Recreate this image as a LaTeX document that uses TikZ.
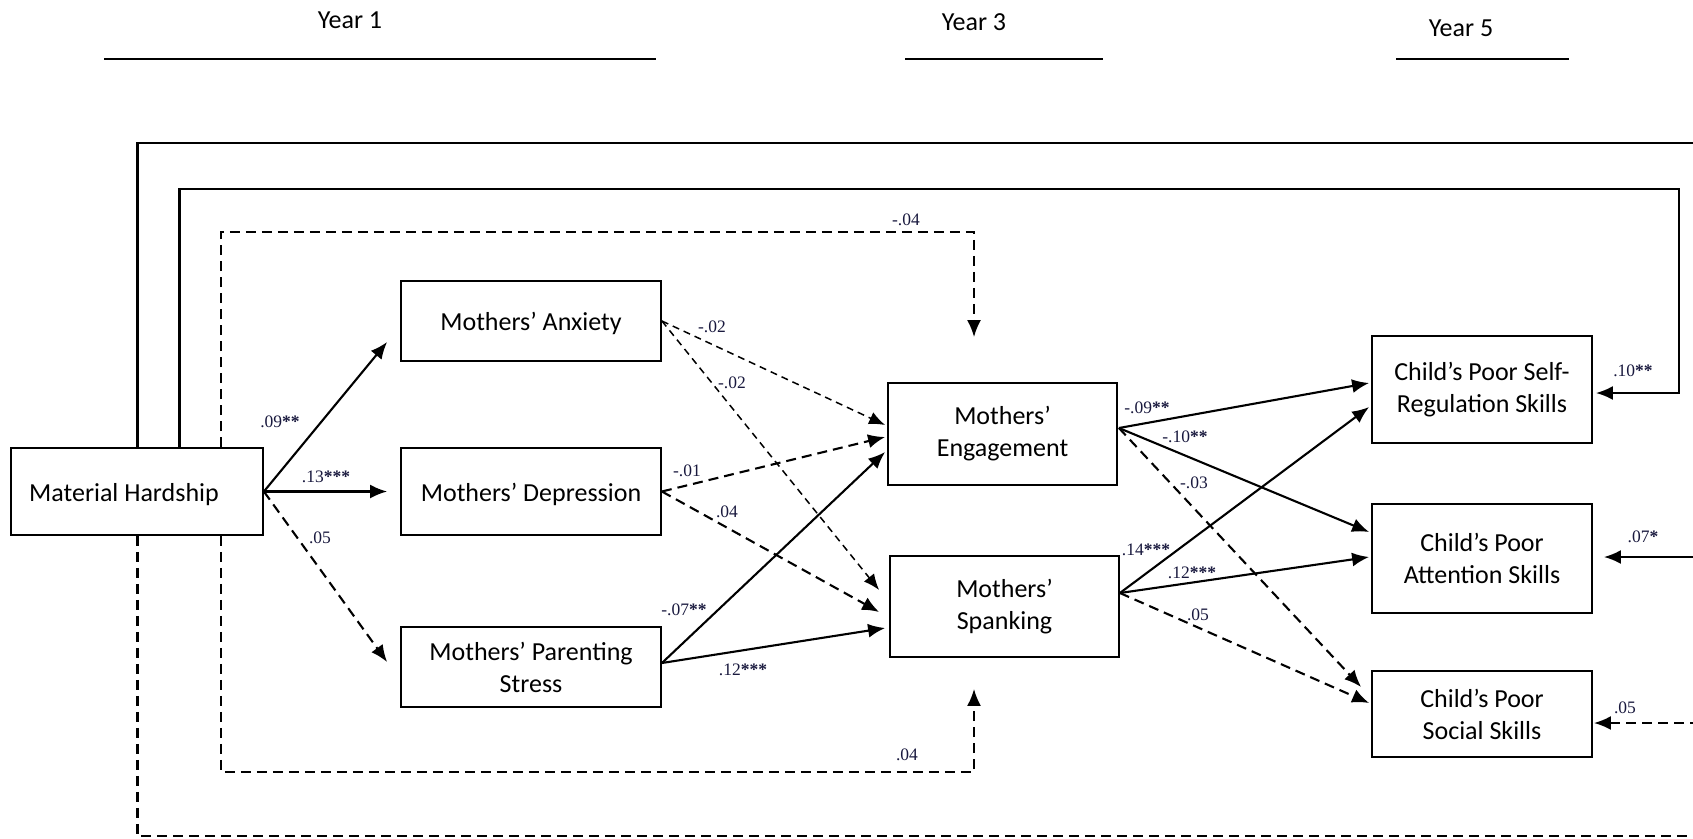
\documentclass[tikz,border=0pt]{standalone}
\usepackage{fontspec}
\setmainfont{Carlito}
\newfontfamily\labfont{Liberation Serif}
\usetikzlibrary{arrows.meta,calc}
\definecolor{labcol}{RGB}{25,25,62}
\newcommand{\st}[1]{\textbf{#1}}
\tikzset{
 box/.style={draw, line width=1.8pt, inner sep=0pt, align=center, font=\fontsize{26}{32}\selectfont,
   execute at begin node={\rule{0pt}{24pt}}},
 conn/.style={line width=2.1pt, -{Latex[length=17pt,width=14pt]}},
 dconn/.style={conn, dash pattern=on 10pt off 6pt},
 tconn/.style={line width=1.5pt, dash pattern=on 7pt off 5pt, -{Latex[length=16pt,width=13pt]}},
 lab/.style={font=\labfont\fontsize{17.5}{20}\selectfont, inner sep=0pt, text=labcol},
 yr/.style={font=\fontsize{26}{30}\selectfont, inner sep=0pt},
 yrline/.style={line width=1.8pt}
}
\begin{document}
\begin{tikzpicture}[x=1pt,y=-1pt]
\useasboundingbox (0,0) rectangle (1693,838);
% year headings
\node[yr] (y1) at (350,20) {Year 1};
\node[yr] (y3) at (974,22) {Year 3};
\node[yr] (y5) at (1461,28) {Year 5};
\coordinate (y1a) at (104,59); \coordinate (y1b) at (656,59);
\coordinate (y3a) at (905,59); \coordinate (y3b) at (1103,59);
\coordinate (y5a) at (1396,59); \coordinate (y5b) at (1569,59);
\draw[yrline] (y1a) -- (y1b);
\draw[yrline] (y3a) -- (y3b);
\draw[yrline] (y5a) -- (y5b);
% boxes
\node[box,minimum width=252pt,minimum height=87pt] (mh) at (137,491.5) {Material Hardship\hspace*{26pt}};
\node[box,minimum width=260pt,minimum height=80pt] (anx) at (531,321) {Mothers’ Anxiety};
\node[box,minimum width=260pt,minimum height=87pt] (dep) at (531,491.5) {Mothers’ Depression};
\node[box,minimum width=260pt,minimum height=80pt] (par) at (531,667) {Mothers’ Parenting\\Stress};
\node[box,minimum width=229pt,minimum height=102pt] (eng) at (1002.5,434) {Mothers’\\Engagement};
\node[box,minimum width=229pt,minimum height=101pt] (spk) at (1004.5,606.5) {Mothers’\\Spanking};
\node[box,minimum width=220pt,minimum height=107pt] (self) at (1482,389.5) {Child’s Poor Self-\\Regulation Skills};
\node[box,minimum width=220pt,minimum height=109pt] (att) at (1482,558.5) {Child’s Poor\\Attention Skills};
\node[box,minimum width=220pt,minimum height=86pt] (soc) at (1482,714) {Child’s Poor\\Social Skills};
% Material hardship to year-1 mediators
\draw[conn] (mh.east) -- ($(anx.west)+(-13,21)$);
\draw[conn] (mh.east) -- ($(dep.west)+(-13,0)$);
\draw[dconn] (mh.east) -- ($(par.west)+(-13,-5)$);
% year-1 mediators to year-3
\draw[tconn] (anx.east) -- ($(eng.west)+(-2,-9)$);
\draw[tconn] (anx.east) -- ($(spk.west)+(-10,-16.5)$);
\draw[dconn] (dep.east) -- ($(eng.west)+(-2,3)$);
\draw[dconn] (dep.east) -- ($(spk.west)+(-10,5.5)$);
\draw[conn] ($(par.east)+(0,-4)$) -- ($(eng.west)+(-2,18)$);
\draw[conn] ($(par.east)+(0,-4)$) -- ($(spk.west)+(-4,21.5)$);
% year-3 to year-5
\draw[conn] ($(eng.east)+(1,-6)$) -- ($(self.west)+(-2,-6.5)$);
\draw[conn] ($(eng.east)+(1,-6)$) -- ($(att.west)+(-2,-26.5)$);
\draw[dconn] ($(eng.east)+(1,-6)$) -- ($(soc.west)+(-10,-27)$);
\draw[conn] ($(spk.east)+(0,-13.5)$) -- ($(self.west)+(-2,17.5)$);
\draw[conn] ($(spk.east)+(0,-13.5)$) -- ($(att.west)+(-2,-1.5)$);
\draw[dconn] ($(spk.east)+(0,-13.5)$) -- ($(soc.west)+(-2,-11)$);
% direct paths from material hardship
\draw[dconn] ($(mh.north)+(84,0)$) |- (974,232) -- ($(eng.north)+(-28.5,-45)$);
\draw[dconn] ($(mh.south)+(84,0)$) |- (974,772) -- ($(spk.south)+(-30.5,31)$);
\draw[conn] ($(mh.north)+(42.5,0)$) |- (1679,189) |- ($(self.east)+(3,3.5)$);
\draw[conn] ($(mh.north)+(0.5,0)$) |- (1760,143) |- ($(att.east)+(11,-1.5)$);
\draw[dconn] ($(mh.south)+(0.5,0)$) |- (1760,836) |- ($(soc.east)+(1,9)$);
% coefficients
\node[lab] (l1) at (280,422) {.09\st{**}};
\node[lab] (l2) at (326,477) {.13\st{***}};
\node[lab] (l3) at (320,538) {.05};
\node[lab] (l4) at (712,327) {-.02};
\node[lab] (l5) at (732,383) {-.02};
\node[lab] (l6) at (687,471) {-.01};
\node[lab] (l7) at (727,512) {.04};
\node[lab] (l8) at (684,610) {-.07\st{**}};
\node[lab] (l9) at (743,670) {.12\st{***}};
\node[lab] (l10) at (906,220) {-.04};
\node[lab] (l11) at (907,755) {.04};
\node[lab] (l12) at (1147,408) {-.09\st{**}};
\node[lab] (l13) at (1185,437) {-.10\st{**}};
\node[lab] (l14) at (1194,483) {-.03};
\node[lab] (l15) at (1146,550) {.14\st{***}};
\node[lab] (l16) at (1192,573) {.12\st{***}};
\node[lab] (l17) at (1198,615) {.05};
\node[lab] (l18) at (1633,371) {.10\st{**}};
\node[lab] (l19) at (1643,537) {.07\st{*}};
\node[lab] (l20) at (1625,708) {.05};
\end{tikzpicture}
\end{document}
